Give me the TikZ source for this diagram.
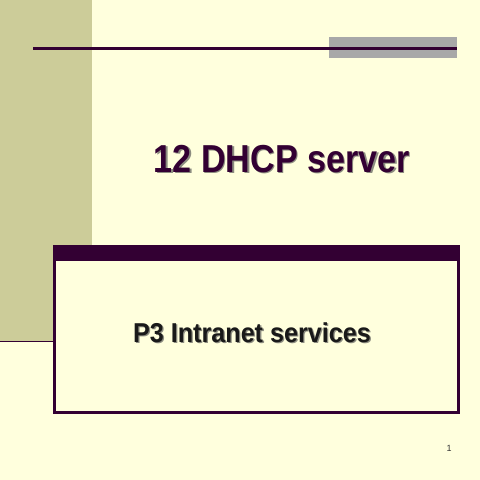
\documentclass[tikz,border=0pt]{standalone}
\usepackage{fontspec}
\usepackage{graphicx}
\setmainfont{Liberation Sans}
\definecolor{bgc}{HTML}{FFFFDD}
\definecolor{tanc}{HTML}{CCCC99}
\definecolor{plum}{HTML}{330033}
\definecolor{barc}{HTML}{A8A8A8}
\definecolor{shadowc}{HTML}{8C8C80}
\newcommand{\titlestr}{\scalebox{0.91}[1.04]{12 DHCP server}}
\newcommand{\substr}{\scalebox{0.95}[1.03]{P3 Intranet services}}
\tikzset{
  titletext/.style={font=\bfseries\fontsize{37.5}{42}\selectfont, inner sep=0pt, anchor=base},
  subtext/.style={font=\bfseries\fontsize{26.5}{30}\selectfont, inner sep=0pt, anchor=base},
}
\begin{document}
\begin{tikzpicture}[x=1pt,y=-1pt]
\fill[bgc] (0,0) rectangle (480,480);
\useasboundingbox (0,0) rectangle (480,480);
% left tan panel
\fill[tanc] (0,0) rectangle (92,341);
\draw[plum, line width=1.5pt] (0,341.5) -- (53,341.5);
% gray bar
\fill[barc] (329,37) rectangle (457,58);
% top line
\coordinate (l1) at (33,48);
\coordinate (l2) at (457,48);
\draw[plum, line width=3pt] (l1) -- (l2);
% box
\fill[bgc] (53,246) rectangle (459,413);
\draw[plum, line width=3pt] (54,247) rectangle (458,412);
\fill[plum] (52.5,245) rectangle (459.5,261);
% title
\node[titletext, text=shadowc] at (283.3,173.3) {\titlestr};
\node[titletext, text=plum] (title) at (282,172) {\titlestr};
% subtitle
\node[subtext, text=shadowc] at (253.3,343.3) {\substr};
\node[subtext, text=black!90] (sub) at (252,342) {\substr};
% page number
\node[font=\fontsize{9}{10}\selectfont, inner sep=0pt, anchor=base, text=black!80] (pg) at (449,451) {1};
\end{tikzpicture}
\end{document}
